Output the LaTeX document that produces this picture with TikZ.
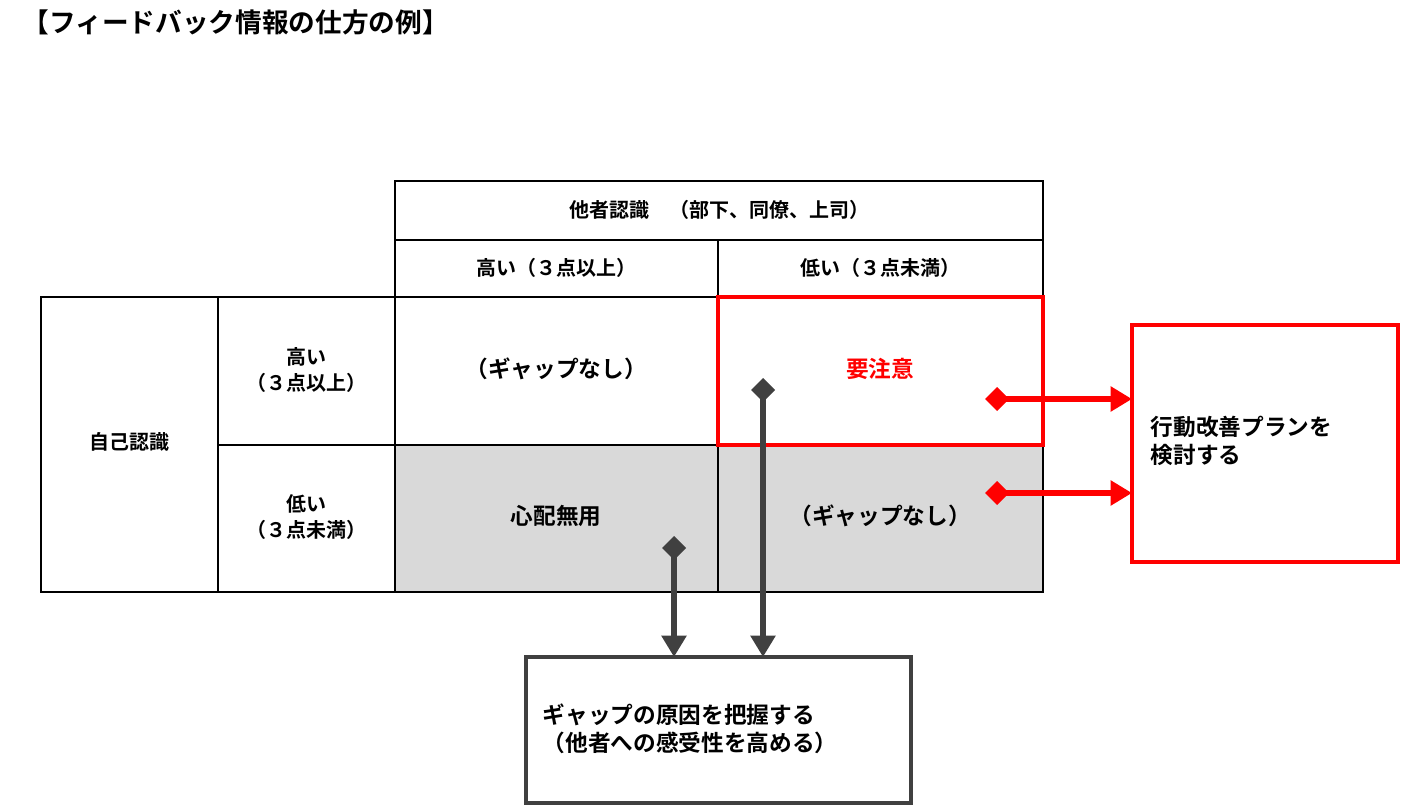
\documentclass[tikz,border=0pt]{standalone}
\usepackage{fontspec}
\setmainfont{Noto Sans CJK JP Bold}
\usetikzlibrary{arrows.meta}
\definecolor{dg}{HTML}{404040}
\definecolor{cellgray}{HTML}{D9D9D9}
\begin{document}
\begin{tikzpicture}[x=0.75pt,y=-0.75pt,
  cell/.style={draw=black,line width=1pt},
  txt/.style={font=\fontsize{15}{19}\selectfont,align=center},
  big/.style={font=\fontsize{17}{21}\selectfont,align=center},
  darr/.style={draw=dg,line width=4.5pt,{Diamond[length=18pt,width=18pt]}-{Triangle[length=16pt,width=18pt]}},
  rarr/.style={draw=red,line width=4.5pt,{Diamond[length=18pt,width=18pt]}-{Triangle[length=16pt,width=18pt]}}]
\useasboundingbox (0,0) rectangle (1403,809);
\node[anchor=west,font=\fontsize{20}{24}\selectfont] (title) at (18,22) {【フィードバック情報の仕方の例】};
% gray cells
\fill[cellgray] (395,445) rectangle (1043,592);
\draw[cell] (395,181) rectangle (1043,240);
\draw[cell] (395,240) rectangle (718,297);
\draw[cell] (718,240) rectangle (1043,297);
\draw[cell] (41,297) rectangle (218,592);
\draw[cell] (218,297) rectangle (395,445);
\draw[cell] (218,445) rectangle (395,592);
\draw[cell] (395,297) rectangle (718,445);
\draw[cell] (395,445) rectangle (718,592);
\draw[cell] (718,445) rectangle (1043,592);
\draw[draw=red,line width=2.5pt] (718,297) rectangle (1043,445);
\node[txt] (h0) at (719,210) {他者認識　（部下、同僚、上司）};
\node[txt] (h1) at (556,268) {高い（３点以上）};
\node[txt] (h2) at (880,268) {低い（３点未満）};
\node[txt] (self) at (129,442) {自己認識};
\node[txt] (r1) at (306,370) {高い\\（３点以上）};
\node[txt] (r2) at (306,517) {低い\\（３点未満）};
\node[big] (c11) at (556,369) {（ギャップなし）};
\node[big,text=red] (c12) at (880,369) {要注意};
\node[big] (c21) at (556,516) {心配無用};
\node[big] (c22) at (880,516) {（ギャップなし）};
% boxes
\draw[draw=red,line width=3.5pt] (1132,325) rectangle (1398,562);
\node[big,align=left,anchor=west] (plan) at (1146,441) {行動改善プランを\\検討する};
\draw[draw=dg,line width=3.5pt] (526,657) rectangle (911,803);
\node[big,align=left,anchor=west] (gap) at (538,729) {ギャップの原因を把握する\\（他者への感受性を高める）};
\coordinate (a1s) at (763,378); \coordinate (a1e) at (763,657);
\coordinate (a2s) at (674,536); \coordinate (a2e) at (674,657);
\coordinate (b1s) at (985,399); \coordinate (b1e) at (1132,399);
\coordinate (b2s) at (985,493); \coordinate (b2e) at (1132,493);
\draw[darr] (a1s) -- (a1e);
\draw[darr] (a2s) -- (a2e);
\draw[rarr] (b1s) -- (b1e);
\draw[rarr] (b2s) -- (b2e);
\end{tikzpicture}
\end{document}
